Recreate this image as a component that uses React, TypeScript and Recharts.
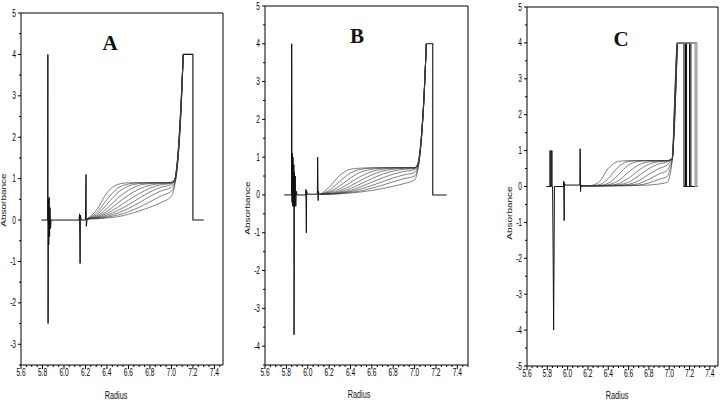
import React from "react"
import { LineChart, Line, XAxis, YAxis, ReferenceArea } from "recharts"

// ---- panel A ----
const RADIUS_A = [6.22, 6.3, 6.4, 6.5, 6.6, 6.7, 6.8, 6.9, 7.0, 7.03, 7.05, 7.07, 7.09, 7.11]
const SCANS_A = [
  [0.04, 0.23, 0.66, 0.86, 0.9, 0.9, 0.9, 0.9, 0.91, 0.98, 1.3, 1.95, 2.9, 4],
  [0.04, 0.16, 0.5, 0.77, 0.87, 0.9, 0.9, 0.9, 0.91, 0.98, 1.3, 1.92, 2.85, 4],
  [0.04, 0.12, 0.38, 0.66, 0.82, 0.88, 0.9, 0.9, 0.91, 0.97, 1.28, 1.9, 2.85, 4],
  [0.04, 0.09, 0.28, 0.53, 0.72, 0.84, 0.88, 0.9, 0.9, 0.96, 1.27, 1.88, 2.8, 4],
  [0.03, 0.07, 0.21, 0.41, 0.6, 0.75, 0.84, 0.88, 0.9, 0.96, 1.25, 1.85, 2.8, 4],
  [0.03, 0.06, 0.16, 0.31, 0.48, 0.64, 0.77, 0.85, 0.89, 0.95, 1.24, 1.85, 2.75, 4],
  [0.03, 0.05, 0.12, 0.23, 0.37, 0.53, 0.68, 0.79, 0.86, 0.93, 1.22, 1.82, 2.75, 4],
  [0.03, 0.04, 0.09, 0.17, 0.28, 0.42, 0.57, 0.7, 0.8, 0.9, 1.2, 1.8, 2.7, 4],
  [0.03, 0.04, 0.07, 0.12, 0.2, 0.31, 0.44, 0.58, 0.7, 0.87, 1.18, 1.78, 2.7, 4],
  [0.03, 0.03, 0.05, 0.08, 0.14, 0.22, 0.31, 0.42, 0.58, 0.84, 1.15, 1.75, 2.65, 4],
]
const SPIKE_A_X = [5.79, 5.848, 5.85, 5.852, 5.855, 5.858, 5.862, 5.866, 5.87, 5.875, 5.88, 6.14, 6.145, 6.15, 6.153, 6.16, 6.2, 6.205, 6.208, 6.215, 6.23]
const SPIKE_A_Y = [0, 0, 4, -2.5, 0.5, -0.6, 0.55, -0.4, 0.3, -0.2, 0, 0, 0.15, -1.05, 0.12, 0, 0, 1.1, -0.15, 0.02, 0.03]
const CELL_A_X = [7.11, 7.2, 7.2, 7.3]
const CELL_A_Y = [4, 4, 0, 0]

// ---- panel B ----
const RADIUS_B = [6.12, 6.2, 6.3, 6.4, 6.5, 6.6, 6.7, 6.8, 6.9, 7.0, 7.03, 7.05, 7.07, 7.09, 7.11]
const SCANS_B = [
  [0.02, 0.2, 0.52, 0.68, 0.71, 0.72, 0.72, 0.72, 0.72, 0.72, 0.82, 1.15, 1.8, 2.75, 4],
  [0.02, 0.12, 0.36, 0.58, 0.68, 0.71, 0.72, 0.72, 0.72, 0.72, 0.82, 1.15, 1.78, 2.75, 4],
  [0.02, 0.08, 0.24, 0.45, 0.61, 0.68, 0.71, 0.72, 0.72, 0.72, 0.81, 1.14, 1.78, 2.7, 4],
  [0.02, 0.06, 0.16, 0.33, 0.5, 0.62, 0.68, 0.71, 0.72, 0.72, 0.8, 1.13, 1.76, 2.7, 4],
  [0.02, 0.04, 0.11, 0.24, 0.39, 0.53, 0.63, 0.68, 0.71, 0.72, 0.8, 1.12, 1.75, 2.7, 4],
  [0.02, 0.03, 0.08, 0.17, 0.3, 0.43, 0.55, 0.63, 0.68, 0.7, 0.78, 1.1, 1.74, 2.68, 4],
  [0.02, 0.03, 0.06, 0.12, 0.22, 0.34, 0.45, 0.55, 0.62, 0.67, 0.76, 1.1, 1.72, 2.68, 4],
  [0.02, 0.03, 0.05, 0.09, 0.16, 0.25, 0.35, 0.45, 0.53, 0.6, 0.74, 1.08, 1.72, 2.66, 4],
  [0.02, 0.02, 0.04, 0.07, 0.11, 0.18, 0.26, 0.35, 0.43, 0.5, 0.7, 1.06, 1.7, 2.65, 4],
  [0.02, 0.02, 0.03, 0.05, 0.08, 0.12, 0.17, 0.23, 0.3, 0.4, 0.66, 1.05, 1.7, 2.65, 4],
]
const SPIKE_B_X = [5.78, 5.848, 5.85, 5.853, 5.856, 5.859, 5.862, 5.866, 5.87, 5.872, 5.875, 5.879, 5.883, 5.888, 5.893, 5.9, 5.98, 5.983, 5.987, 5.99, 5.995, 6.09, 6.093, 6.097, 6.1, 6.105, 6.12]
const SPIKE_B_Y = [0, 0, 4, -0.2, 1.1, -0.3, 1.0, -0.3, 0.8, -3.7, 0.6, -0.3, 0.5, -0.3, 0.1, 0, 0, 0.15, -1.0, 0.1, 0.02, 0.02, 1.0, -0.15, 0.1, 0.02, 0.02]
const CELL_B_X = [7.11, 7.17, 7.17, 7.3]
const CELL_B_Y = [4, 4, 0, 0]

// ---- panel C ----
const RADIUS_C = [6.13, 6.2, 6.3, 6.4, 6.5, 6.6, 6.7, 6.8, 6.9, 6.98, 7.01, 7.03, 7.05, 7.06, 7.07, 7.08]
const SCANS_C = [
  [0.02, 0.02, 0.1, 0.5, 0.7, 0.72, 0.72, 0.72, 0.72, 0.72, 0.74, 0.78, 2.2, 3.0, 3.7, 4],
  [0.02, 0.02, 0.04, 0.22, 0.55, 0.7, 0.72, 0.72, 0.72, 0.72, 0.74, 0.78, 2.1, 2.9, 3.6, 4],
  [0.02, 0.02, 0.03, 0.09, 0.33, 0.6, 0.7, 0.72, 0.72, 0.72, 0.74, 0.78, 2.0, 2.8, 3.6, 4],
  [0.02, 0.02, 0.02, 0.05, 0.16, 0.4, 0.6, 0.69, 0.71, 0.72, 0.74, 0.78, 1.9, 2.7, 3.5, 4],
  [0.02, 0.02, 0.02, 0.03, 0.08, 0.23, 0.45, 0.62, 0.69, 0.71, 0.74, 0.78, 1.9, 2.6, 3.4, 4],
  [0.02, 0.02, 0.02, 0.03, 0.05, 0.12, 0.3, 0.5, 0.63, 0.68, 0.73, 0.78, 1.8, 2.5, 3.3, 4],
  [0.02, 0.02, 0.02, 0.02, 0.03, 0.06, 0.16, 0.34, 0.5, 0.6, 0.7, 0.78, 1.7, 2.4, 3.2, 4],
  [0.02, 0.02, 0.02, 0.02, 0.03, 0.04, 0.08, 0.2, 0.35, 0.45, 0.62, 0.78, 1.7, 2.4, 3.2, 4],
  [0.02, 0.02, 0.02, 0.02, 0.02, 0.03, 0.04, 0.1, 0.2, 0.28, 0.5, 0.78, 1.6, 2.3, 3.1, 4],
  [0.02, 0.02, 0.02, 0.02, 0.02, 0.02, 0.03, 0.04, 0.07, 0.12, 0.35, 0.76, 1.6, 2.3, 3.1, 4],
]
const SPIKE_C_X = [5.79, 5.826, 5.826, 5.829, 5.829, 5.843, 5.843, 5.846, 5.846, 5.852, 5.858, 5.862, 5.866, 5.87, 5.96, 5.962, 5.966, 5.968, 5.975, 6.12, 6.123, 6.127, 6.13, 6.14]
const SPIKE_C_Y = [0, 0, 1, 1, 0, 0, 1, 1, 0, 0, -2.2, -4, -2.1, 0, 0, 0.15, -0.95, 0.1, 0.04, 0.04, 1.05, -0.14, 0.03, 0.02]
const CELL_C_DROP = [7.145, 7.16, 7.17, 7.2, 7.213, 7.255, 7.272]

const X_LABELS = [5.6, 5.8, 6.0, 6.2, 6.4, 6.6, 6.8, 7.0, 7.2, 7.4]
const PANEL_LETTERS = ["A", "B", "C"]

const SANS = "'Liberation Sans', Arial, sans-serif"

const pts = (xs: number[], ys: number[]) => xs.map((x, i) => ({ x, y: ys[i] }))

function XTick({ x, y, payload }: any) {
  const v = payload.value
  const major = X_LABELS.some((l) => Math.abs(l - v) < 1e-6)
  return (
    <g>
      <line x1={x} x2={x} y1={y} y2={y + (major ? 4 : 2)} stroke="#000" strokeWidth={1} />
      {major && (
        <text transform={`translate(${x},${y + 11}) scale(0.66,1)`} textAnchor="middle" fontSize={10} fontFamily={SANS} fill="#000">
          {v.toFixed(1)}
        </text>
      )}
    </g>
  )
}

function YTick({ x, y, payload }: any) {
  const v = payload.value
  const major = Math.abs(v - Math.round(v)) < 1e-6
  return (
    <g>
      <line x1={x - (major ? 3 : 2)} x2={x} y1={y} y2={y} stroke="#000" strokeWidth={1} />
      {major && (
        <text transform={`translate(${x - 5},${y + 3.5}) scale(0.66,1)`} textAnchor="end" fontSize={10} fontFamily={SANS} fill="#000">
          {String(v)}
        </text>
      )}
    </g>
  )
}

type PanelProps = {
  left: number
  yAxisWidth: number
  top: number
  right: number
  xAxisHeight: number
  xMax: number
  yMin: number
  radius: number[]
  scans: number[][]
  spikeX: number[]
  spikeY: number[]
  cells: { x: number[]; y: number[] }[]
}

function Panel(p: PanelProps) {
  const xTicks: number[] = []
  for (let v = 5.6; v <= p.xMax + 1e-6; v += 0.05) xTicks.push(Math.round(v * 100) / 100)
  const yTicks: number[] = []
  for (let v = p.yMin; v <= 5 + 1e-6; v += 0.5) yTicks.push(Math.round(v * 10) / 10)

  return (
    <div style={{ position: "absolute", left: p.left, top: 0 }}>
      <LineChart width={240} height={400} margin={{ top: p.top, right: p.right, bottom: 0, left: 0 }}>
        <XAxis
          type="number"
          dataKey="x"
          domain={[5.6, p.xMax]}
          ticks={xTicks}
          interval={0}
          allowDataOverflow
          height={p.xAxisHeight}
          tickSize={0}
          tickMargin={0}
          axisLine={false}
          tickLine={false}
          tick={(t: any) => <XTick {...t} />}
        />
        <YAxis
          type="number"
          domain={[p.yMin, 5]}
          ticks={yTicks}
          interval={0}
          allowDataOverflow
          width={p.yAxisWidth}
          tickSize={0}
          tickMargin={0}
          axisLine={false}
          tickLine={false}
          tick={(t: any) => <YTick {...t} />}
        />
        <ReferenceArea x1={5.6} x2={p.xMax} y1={p.yMin} y2={5} fill="none" stroke="#000" strokeWidth={1} strokeOpacity={1} />
        {p.scans.map((s, i) => (
          <Line
            key={`scan-${i}`}
            data={pts(p.radius, s)}
            dataKey="y"
            type="monotone"
            stroke="#3a3a3a"
            strokeWidth={0.65}
            dot={false}
            activeDot={false}
            isAnimationActive={false}
          />
        ))}
        {p.cells.map((c, i) => (
          <Line
            key={`cell-${i}`}
            data={pts(c.x, c.y)}
            dataKey="y"
            type="linear"
            stroke={i >= 5 ? "#888" : "#111"}
            strokeWidth={1.1}
            dot={false}
            activeDot={false}
            isAnimationActive={false}
          />
        ))}
        <Line
          data={pts(p.spikeX, p.spikeY)}
          dataKey="y"
          type="linear"
          stroke="#111"
          strokeWidth={1}
          dot={false}
          activeDot={false}
          isAnimationActive={false}
        />
      </LineChart>
    </div>
  )
}

const textBase: React.CSSProperties = { position: "absolute", whiteSpace: "nowrap", lineHeight: 1, color: "#111" }

export default function App() {
  const cellsC = CELL_C_DROP.map((d) => ({ x: [7.08, d, d, 7.28], y: [4, 4, 0, 0] }))
  const letterPos = [
    { x: 110, y: 43 },
    { x: 357, y: 36 },
    { x: 621, y: 39 },
  ]
  const radiusPos = [
    { x: 116, y: 395 },
    { x: 359, y: 394 },
    { x: 617, y: 395 },
  ]
  const absPos = [
    { x: 4, y: 200 },
    { x: 248, y: 208 },
    { x: 510, y: 213 },
  ]
  return (
    <div style={{ position: "absolute", left: 0, top: 0, width: 720, height: 400, background: "#fff", overflow: "hidden" }}>
      <Panel
        left={0}
        yAxisWidth={21}
        top={13}
        right={17}
        xAxisHeight={35}
        xMax={7.48}
        yMin={-3.5}
        radius={RADIUS_A}
        scans={SCANS_A}
        spikeX={SPIKE_A_X}
        spikeY={SPIKE_A_Y}
        cells={[{ x: CELL_A_X, y: CELL_A_Y }]}
      />
      <Panel
        left={240}
        yAxisWidth={25}
        top={6}
        right={12}
        xAxisHeight={35}
        xMax={7.5}
        yMin={-4.5}
        radius={RADIUS_B}
        scans={SCANS_B}
        spikeX={SPIKE_B_X}
        spikeY={SPIKE_B_Y}
        cells={[{ x: CELL_B_X, y: CELL_B_Y }]}
      />
      <Panel
        left={480}
        yAxisWidth={47}
        top={7}
        right={2}
        xAxisHeight={34}
        xMax={7.48}
        yMin={-5}
        radius={RADIUS_C}
        scans={SCANS_C}
        spikeX={SPIKE_C_X}
        spikeY={SPIKE_C_Y}
        cells={cellsC}
      />
      {PANEL_LETTERS.map((l, i) => (
        <div
          key={l}
          style={{
            ...textBase,
            left: letterPos[i].x,
            top: letterPos[i].y,
            transform: "translate(-50%, -50%)",
            fontFamily: "'Liberation Serif', 'Times New Roman', serif",
            fontWeight: "bold",
            fontSize: 21,
          }}
        >
          {l}
        </div>
      ))}
      {radiusPos.map((p, i) => (
        <div
          key={`r${i}`}
          style={{
            ...textBase,
            left: p.x,
            top: p.y,
            transform: "translate(-50%, -50%) scale(0.66, 1)",
            fontFamily: SANS,
            fontSize: 11,
          }}
        >
          Radius
        </div>
      ))}
      {absPos.map((p, i) => (
        <div
          key={`a${i}`}
          style={{
            ...textBase,
            left: p.x,
            top: p.y,
            transform: "translate(-50%, -50%) rotate(-90deg) scale(1, 0.75)",
            fontFamily: SANS,
            fontSize: 10,
          }}
        >
          Absorbance
        </div>
      ))}
    </div>
  )
}
